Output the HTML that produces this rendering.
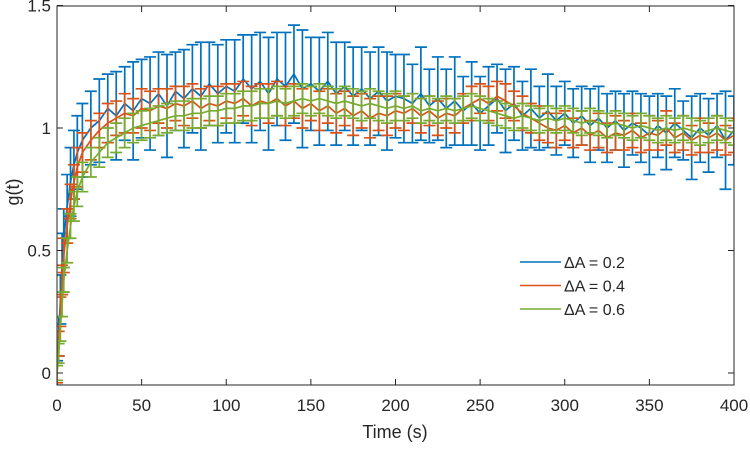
<!DOCTYPE html>
<html><head><meta charset="utf-8">
<style>
body{margin:0;background:#fff;}
svg text{font-family:"Liberation Sans",sans-serif;fill:#262626;}
</style></head><body>
<svg id="chart" width="750" height="444">
<defs><clipPath id="clip"><rect x="57" y="6" width="677" height="379"/></clipPath></defs>
<rect x="57" y="6" width="677" height="379" fill="#fff"/>
<g id="series" clip-path="url(#clip)"></g>
<g id="axes"></g>
</svg>
<script>
const times=[0,1,2,3,4,6,8,10,12,15,20,25,30,35,40,45,50,55,60,65,70,75,80,85,90,95,100,105,110,115,120,125,130,135,140,145,150,155,160,165,170,175,180,185,190,195,200,205,210,215,220,225,230,235,240,245,250,255,260,265,270,275,280,285,290,295,300,305,310,315,320,325,330,335,340,345,350,355,360,365,370,375,380,385,390,395,400];
const blueVals=[0.0,0.15,0.3,0.45,0.55,0.68,0.78,0.85,0.9,0.95,
1.0,1.03,1.08,1.05,1.1,1.07,1.12,1.1,1.14,1.09,1.15,1.12,1.16,1.13,1.18,1.14,1.17,
1.15,1.2,1.16,1.19,1.14,1.2,1.17,1.22,1.16,1.18,1.15,1.19,1.14,1.17,1.13,1.16,1.12,1.15,1.11,1.13,
1.12,1.1,1.14,1.09,1.12,1.08,1.11,1.07,1.1,1.06,1.09,1.12,1.07,1.1,1.05,1.08,1.04,1.07,1.03,1.06,
1.02,1.05,1.01,1.04,1.0,1.03,0.99,1.02,1.0,0.97,1.01,0.98,1.02,0.99,0.96,1.0,0.97,1.01,0.95,0.99];
const blueErr=[0.05,0.08,0.1,0.12,0.12,0.13,0.14,0.14,0.15,0.15,
0.15,0.17,0.14,0.18,0.15,0.2,0.16,0.19,0.17,0.21,0.16,0.2,0.18,0.22,0.17,0.2,0.19,
0.21,0.18,0.22,0.2,0.23,0.19,0.22,0.2,0.24,0.19,0.22,0.2,0.21,0.18,0.2,0.17,0.19,0.18,0.2,0.17,
0.18,0.16,0.19,0.15,0.17,0.16,0.18,0.14,0.17,0.15,0.16,0.14,0.17,0.15,0.14,0.16,0.13,0.15,0.14,0.13,
0.14,0.12,0.15,0.13,0.14,0.12,0.15,0.13,0.14,0.16,0.13,0.15,0.14,0.12,0.17,0.14,0.15,0.13,0.2,0.14];
const redVals=[0.0,0.12,0.25,0.38,0.48,0.6,0.7,0.78,0.84,0.9,
0.95,0.99,1.02,1.04,1.06,1.05,1.08,1.07,1.09,1.08,1.1,1.09,1.11,1.08,1.1,1.09,1.11,
1.1,1.12,1.09,1.11,1.1,1.12,1.09,1.11,1.08,1.1,1.07,1.09,1.06,1.08,1.05,1.07,1.04,1.06,1.05,1.07,
1.06,1.08,1.05,1.07,1.04,1.06,1.05,1.08,1.1,1.12,1.1,1.13,1.11,1.09,1.06,1.04,1.02,1.0,0.99,1.01,
0.98,1.0,0.97,0.99,0.96,0.98,0.97,0.99,0.96,0.98,0.97,1.0,0.96,0.98,0.95,0.97,0.96,0.98,0.95,0.97];
const redErr=[0.04,0.05,0.06,0.06,0.07,0.07,0.07,0.07,0.08,0.08,
0.08,0.07,0.08,0.07,0.08,0.07,0.08,0.08,0.07,0.08,0.07,0.08,0.07,0.08,0.07,0.08,0.07,
0.08,0.07,0.08,0.07,0.08,0.07,0.08,0.07,0.08,0.07,0.08,0.07,0.08,0.07,0.08,0.07,0.08,0.07,0.08,0.07,
0.07,0.06,0.07,0.06,0.07,0.06,0.07,0.06,0.07,0.06,0.07,0.06,0.07,0.06,0.07,0.06,0.07,0.06,0.07,0.06,
0.06,0.07,0.06,0.07,0.06,0.07,0.06,0.07,0.06,0.07,0.06,0.07,0.06,0.07,0.06,0.07,0.06,0.07,0.06,0.07];
const greenVals=[0.0,0.08,0.18,0.28,0.38,0.5,0.6,0.68,0.74,0.8,
0.86,0.9,0.94,0.96,0.98,1.0,1.01,1.02,1.03,1.04,1.05,1.05,1.06,1.06,1.07,1.07,1.08,
1.08,1.09,1.09,1.1,1.1,1.11,1.1,1.11,1.12,1.11,1.12,1.11,1.1,1.11,1.1,1.09,1.1,1.09,1.08,1.09,
1.08,1.09,1.07,1.08,1.07,1.08,1.07,1.08,1.09,1.08,1.07,1.06,1.05,1.04,1.05,1.04,1.03,1.04,1.03,1.04,
1.03,1.02,1.03,1.02,1.01,1.02,1.01,1.0,1.01,1.0,0.99,1.0,0.99,1.0,0.99,0.98,0.99,1.0,0.99,0.98];
const greenErr=[0.03,0.04,0.05,0.05,0.05,0.05,0.05,0.06,0.06,0.06,
0.06,0.06,0.06,0.06,0.06,0.06,0.06,0.06,0.06,0.06,0.06,0.06,0.06,0.06,0.06,0.06,0.06,
0.06,0.06,0.06,0.06,0.06,0.06,0.06,0.06,0.06,0.06,0.06,0.06,0.06,0.06,0.06,0.06,0.06,0.06,0.06,0.06,
0.05,0.05,0.05,0.05,0.05,0.05,0.05,0.05,0.05,0.05,0.05,0.05,0.05,0.05,0.05,0.05,0.05,0.05,0.05,0.05,
0.05,0.05,0.05,0.05,0.05,0.05,0.05,0.05,0.05,0.05,0.05,0.05,0.05,0.05,0.05,0.05,0.05,0.05,0.05,0.05];
const xTicks=[0,50,100,150,200,250,300,350,400];
const yTicks=[0,0.5,1,1.5];
const yTickLabels=["0","0.5","1","1.5"];
const legendLabels=["ΔA = 0.2","ΔA = 0.4","ΔA = 0.6"];

const NS="http://www.w3.org/2000/svg";
const X0=57,X1=734,Y0=385,Y1=6;
const xS=v=>X0+(v-0)/(400-0)*(X1-X0);
const yS=v=>373-(v)*245;
function mk(tag,attrs,parent){const e=document.createElementNS(NS,tag);for(const k in attrs)e.setAttribute(k,attrs[k]);parent.appendChild(e);return e;}
const sg=document.getElementById('series');
const ax=document.getElementById('axes');
const series=[[blueVals,blueErr,"#0072BD","blue"],[redVals,redErr,"#D95319","red"],[greenVals,greenErr,"#77AC30","green"]];
series.forEach(([vals,errs,col,nm])=>{
  const g=mk('g',{stroke:col,'stroke-width':1.7,fill:'none'},sg);
  
  
  const pts=times.map((t,i)=>xS(t).toFixed(1)+','+yS(vals[i]).toFixed(1)).join(' ');
  const pl=mk('polyline',{points:pts},g);
  
  
  let d='';
  times.forEach((t,i)=>{const x=xS(t),a=yS(vals[i]-errs[i]),b=yS(vals[i]+errs[i]);
    d+=`M${x},${a}V${b}M${x-6},${a}H${x+6}M${x-6},${b}H${x+6}`;});
  const eb=mk('path',{d:d},g);
  
  
});
const frame=mk('rect',{x:X0,y:Y1,width:X1-X0,height:Y0-Y1,fill:'none',stroke:'#262626','stroke-width':1},ax);


xTicks.forEach(t=>{const x=xS(t);
  mk('line',{x1:x,x2:x,y1:Y0,y2:Y0-6,stroke:'#262626'},ax);
  mk('line',{x1:x,x2:x,y1:Y1,y2:Y1+6,stroke:'#262626'},ax);
  const tx=mk('text',{x:x,y:Y0+26,'text-anchor':'middle','font-size':17},ax);tx.textContent=t;
  
  
});
yTicks.forEach((t,i)=>{const y=yS(t);
  mk('line',{x1:X0,x2:X0+6,y1:y,y2:y,stroke:'#262626'},ax);
  mk('line',{x1:X1,x2:X1-6,y1:y,y2:y,stroke:'#262626'},ax);
  const tx=mk('text',{x:X0-6,y:y+6,'text-anchor':'end','font-size':17},ax);tx.textContent=yTickLabels[i];
  
  
});
const xl=mk('text',{x:395,y:438,'text-anchor':'middle','font-size':18},ax);xl.textContent='Time (s)';


const yl=mk('text',{x:0,y:0,'text-anchor':'middle','font-size':18,transform:'translate(19,192) rotate(-90)'},ax);yl.textContent='g(t)';


series.forEach(([v,e,col,nm],i)=>{const y=262+i*23.5;
  const lg=mk('g',{},ax);
  
  
  mk('line',{x1:520,x2:561,y1:y,y2:y,stroke:col,'stroke-width':1.5},lg);
  const t=mk('text',{x:564,y:y+6,'font-size':16},lg);t.textContent=legendLabels[i];
});
</script>
</body></html>
